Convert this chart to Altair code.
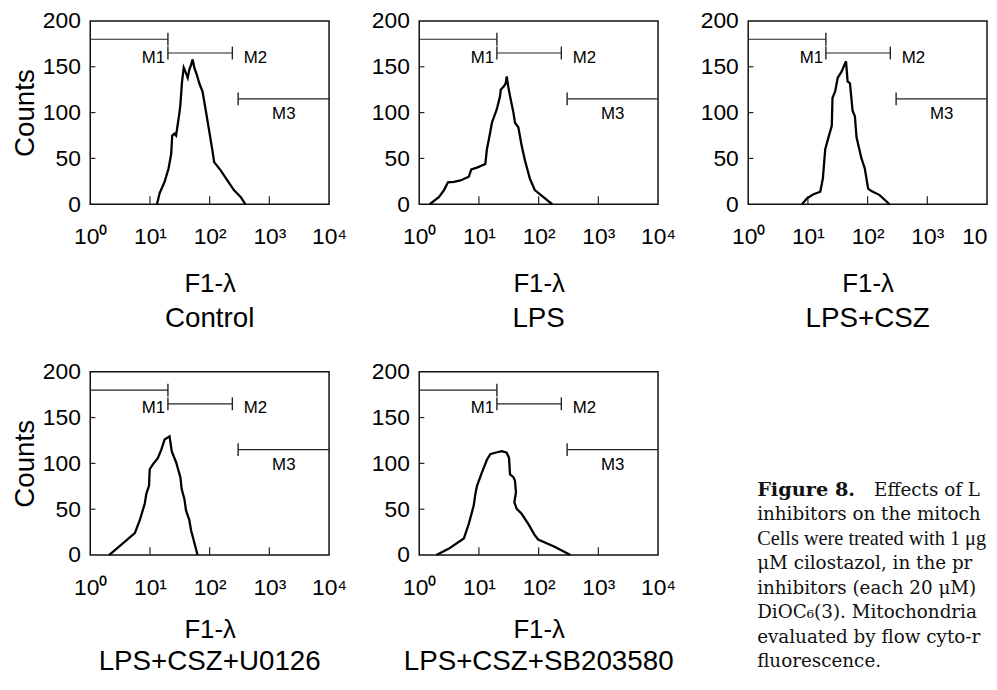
import altair as alt
import pandas as pd

# ---- histogram data (F1 fluorescence channel value, counts) ----
ctrl_x = [13.1, 14.5, 17.6, 20.5, 22.7, 23.6, 25.8, 27.4, 29.2, 31.2, 32.4, 34.5, 36.8, 40.2, 42.9, 45.7,
          48.8, 51.9, 55.3, 61.2, 67, 76, 86.3, 98.2, 111, 119, 153, 198, 255, 330, 398]
ctrl_y = [0, 12, 24.5, 39, 55, 75, 77, 75, 87, 100, 109, 134, 149, 143, 138, 147,
          152, 158, 149, 141, 132, 123, 102, 80, 59, 46, 37, 26, 15.5, 8, 0]

lps_x = [1.5, 2.15, 2.6, 3.03, 3.81, 4.91, 6.76, 7.46, 9.29, 12.8, 13.6, 15.1, 16.5, 20, 22.6, 23.2,
         26.4, 28.1, 29.2, 31.2, 33.2, 37.8, 40.2, 45.7, 51.9, 58.9, 71.3, 86.3, 119, 169]
lps_y = [0, 8, 15.5, 24, 24.5, 26, 30, 38, 40, 44, 60, 75, 89, 104, 118, 125,
         129, 132, 139.5, 127, 118, 100, 89, 84, 64, 48, 28, 15.5, 8, 0]

csz_x = [7.96, 9.66, 12.4, 16.1, 17.8, 19.5, 22.1, 25.1, 25.8, 28.6, 31.6, 36.8, 43.5, 46.2, 50.6, 56,
         61.2, 65.2, 78.9, 89.7, 102, 116, 159, 233]
csz_y = [0, 6.5, 11, 13.7, 28, 60, 73, 85.6, 116, 123, 138, 145, 156, 134, 132, 102,
         96, 73, 50, 39, 17, 14.4, 10, 0]

u0126_x = [2.07, 5.58, 6.76, 8.18, 8.71, 9.64, 9.91, 11.2, 13.6, 15.5, 17.6, 21.3, 23.2, 27.5, 32.4,
           34, 37.8, 40.2, 45.7, 48.8, 62.8]
u0126_y = [0, 24, 38, 56, 67, 75.5, 93.6, 99, 106, 115, 126, 129.5, 113, 101, 84.6,
           72, 61, 48.6, 38, 27, 0]

sb_x = [1.94, 3.15, 5.58, 6.76, 8.18, 8.71, 9.29, 11.2, 13.6, 15.5, 18.7, 24.2, 29.2, 31.9, 33.2,
        37.8, 40.2, 41.7, 39.2, 42.9, 51.9, 67, 86.3, 98.2, 185, 341]
sb_y = [0, 7, 18, 34, 54, 66.6, 75.6, 90, 104, 110, 111.6, 113.3, 111.6, 106, 88,
        85, 81, 68.4, 57.6, 50.4, 45, 34, 21.6, 17, 9, 0]

conditions = ["Control", "LPS", "LPS+CSZ", "LPS+CSZ+U0126", "LPS+CSZ+SB203580"]

# ---- gate markers ----
gate_names = ["M1", "M2", "M3"]
gate_start = [1, 20, 300]
gate_end = [20, 240, 10000]
gate_level = [180, 165, 115]
gate_tick_x = [20, 20, 240, 300]
gate_tick_lo = [173, 158, 158, 108]
gate_tick_hi = [187, 172, 172, 122]
gate_label_x = [18, 374, 1746]
gate_label_y = [160, 160, 98]

x_ticks = [1, 10, 100, 1000, 10000]
y_ticks = [0, 50, 100, 150, 200]
x_inner_ticks = [10, 100, 1000]
y_inner_ticks = [50, 100, 150]

caption_head = "Figure 8."
caption_lines = ["Effects of L", "inhibitors on the mitoch", "Cells were treated with 1 \u03bcg",
                 "\u03bcM cilostazol, in the pr", "inhibitors (each 20 \u03bcM)",
                 "DiOC\u2086(3). Mitochondria", "evaluated by flow cyto-r", "fluorescence."]

FONT = "Liberation Sans"
W, H = 241, 185

xscale = alt.Scale(type="log", domain=[1, 10000], nice=False)
yscale = alt.Scale(domain=[0, 200], nice=False)

SUP = "['\u2070','\u00b9','\u00b2','\u00b3','\u2074'][round(log(datum.value)/LN10)]"


def panel(xs, ys, name, ytitle, clip_last=False, top_row=True):
    if clip_last:
        lab_expr = "datum.value >= 10000 ? '10' : '10' + " + SUP
        lab_align = {"condition": {"test": "datum.value >= 10000", "value": "right"}, "value": "center"}
    else:
        lab_expr = "'10' + " + SUP
        lab_align = "center"
    tpad = 22 if top_row else 17
    toff = 9 if top_row else 6
    xaxis = alt.Axis(values=x_ticks, ticks=False, domain=False, grid=False,
                     labelExpr=lab_expr, labelAlign=lab_align,
                     labelFont=FONT, labelFontSize=23, labelColor="black", labelPadding=22,
                     labelOverlap=False, labelFlush=False,
                     title="F1-\u03bb", titleFont=FONT, titleFontSize=26, titleFontWeight="normal",
                     titleColor="black", titlePadding=tpad)
    yaxis = alt.Axis(values=y_ticks, ticks=False, domain=False, grid=False,
                     labelFont=FONT, labelFontSize=23, labelColor="black", labelPadding=10,
                     title=ytitle, titleFont=FONT, titleFontSize=28, titleFontWeight="normal",
                     titleColor="black", titlePadding=3)

    curve = pd.DataFrame({"x": xs, "y": ys, "i": list(range(len(xs)))})
    line = alt.Chart(curve).mark_line(color="black", strokeWidth=2.3).encode(
        x=alt.X("x:Q", scale=xscale, axis=xaxis),
        y=alt.Y("y:Q", scale=yscale, axis=yaxis),
        order="i:Q")

    gates = pd.DataFrame({"name": gate_names, "start": gate_start, "end": gate_end,
                          "level": gate_level, "lx": gate_label_x, "ly": gate_label_y})
    gate_lines = alt.Chart(gates).mark_rule(color="#222", strokeWidth=1.2).encode(
        x=alt.X("start:Q", scale=xscale, axis=xaxis), x2="end:Q",
        y=alt.Y("level:Q", scale=yscale, axis=yaxis))

    gticks = pd.DataFrame({"x": gate_tick_x, "lo": gate_tick_lo, "hi": gate_tick_hi})
    gate_ticks = alt.Chart(gticks).mark_rule(color="#222", strokeWidth=1.4).encode(
        x=alt.X("x:Q", scale=xscale, axis=xaxis),
        y=alt.Y("lo:Q", scale=yscale, axis=yaxis), y2="hi:Q")

    def glabel(nm, align):
        return alt.Chart(gates).transform_filter(alt.datum.name == nm).mark_text(
            font=FONT, fontSize=17, color="black", align=align, baseline="middle").encode(
            x=alt.X("lx:Q", scale=xscale, axis=xaxis),
            y=alt.Y("ly:Q", scale=yscale, axis=yaxis), text="name:N")

    xt = pd.DataFrame({"x": x_inner_ticks, "a": [0] * 3, "b": [8.6] * 3})
    xtick_marks = alt.Chart(xt).mark_rule(color="#222", strokeWidth=1.2).encode(
        x=alt.X("x:Q", scale=xscale, axis=xaxis),
        y=alt.Y("a:Q", scale=yscale, axis=yaxis), y2="b:Q")
    yt = pd.DataFrame({"y": y_inner_ticks, "a": [1] * 3, "b": [1.22] * 3})
    ytick_marks = alt.Chart(yt).mark_rule(color="#222", strokeWidth=1.2).encode(
        y=alt.Y("y:Q", scale=yscale, axis=yaxis),
        x=alt.X("a:Q", scale=xscale, axis=xaxis), x2="b:Q")

    return alt.layer(xtick_marks, ytick_marks, gate_lines, gate_ticks,
                     glabel("M1", "right"), glabel("M2", "left"), glabel("M3", "center"),
                     line).properties(
        width=W, height=H,
        title=alt.TitleParams(name, orient="bottom", font=FONT, fontSize=28,
                              fontWeight="normal", color="black", offset=toff))


p1 = panel(ctrl_x, ctrl_y, conditions[0], "Counts")
p2 = panel(lps_x, lps_y, conditions[1], "")
p3 = panel(csz_x, csz_y, conditions[2], "", clip_last=True)
p4 = panel(u0126_x, u0126_y, conditions[3], "Counts", top_row=False)
p5 = panel(sb_x, sb_y, conditions[4], "", top_row=False)

cap_df = pd.DataFrame({"t": caption_lines, "k": list(range(len(caption_lines)))})
cap_y = alt.Y("k:Q", scale=alt.Scale(domain=[0, 7], range=[119, 292]), axis=None)
cap_body = alt.Chart(cap_df).transform_filter((alt.datum.k > 0) & (alt.datum.k != 2)).mark_text(
    align="left", baseline="middle", font="DejaVu Serif", fontSize=18.5, color="#111").encode(
    x=alt.value(9), y=cap_y, text="t:N")
cap_tight = alt.Chart(cap_df).transform_filter(alt.datum.k == 2).mark_text(
    align="left", baseline="middle", font="Liberation Serif", fontSize=20.5, color="#111").encode(
    x=alt.value(9), y=cap_y, text="t:N")
cap_first = alt.Chart(cap_df).transform_filter(alt.datum.k == 0).mark_text(
    align="left", baseline="middle", font="DejaVu Serif", fontSize=18.5, color="#111", dx=118).encode(
    x=alt.value(9), y=cap_y, text="t:N")
cap_head = alt.Chart(pd.DataFrame({"t": [caption_head], "k": [0]})).mark_text(
    align="left", baseline="middle", font="DejaVu Serif", fontSize=19.5, fontWeight="bold",
    color="#111").encode(x=alt.value(9), y=cap_y, text="t:N")
cap = alt.layer(cap_head, cap_first, cap_body, cap_tight).properties(
    width=W, height=H, view=alt.ViewBackground(stroke="transparent"))

chart = alt.concat(p1, p2, p3, p4, p5, cap, columns=3,
                   spacing={"row": 169, "column": 91}, bounds="flush").properties(
    padding={"left": 2, "top": -2, "right": 0, "bottom": -6}
).configure(background="white").configure_view(stroke="#111", strokeWidth=1.5)

chart.save("out.html", embed_options={"renderer": "svg", "actions": False})
